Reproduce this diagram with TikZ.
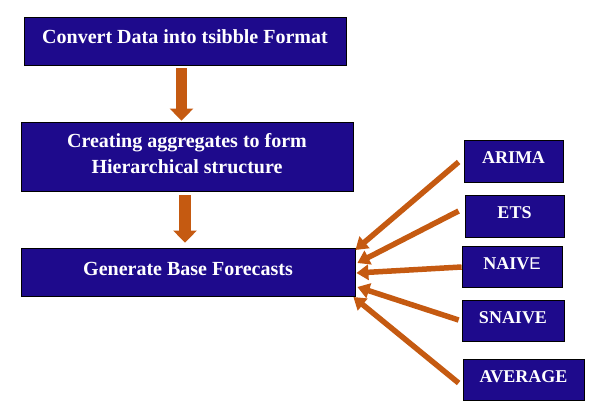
\documentclass[tikz,border=0pt]{standalone}
\usepackage{fontspec}
\setmainfont{Liberation Serif}
\newfontfamily\arialfont{Liberation Sans}
\usetikzlibrary{arrows.meta,calc}
\definecolor{boxblue}{RGB}{30,10,140}
\definecolor{arroworange}{RGB}{197,90,17}
\tikzset{
  bigbox/.style={draw=black, line width=0.8pt, fill=boxblue, text=white, inner sep=0pt,
    font=\fontsize{20}{25.5}\selectfont\bfseries, align=center, text height=13pt, text depth=7pt},
  smallbox/.style={draw=black, line width=0.8pt, fill=boxblue, text=white, inner sep=0pt,
    font=\fontsize{18}{22}\selectfont\bfseries, text height=12pt, text depth=7pt},
  bigarrow/.style={draw=arroworange, line width=11.5pt, -{Triangle[width=23pt,length=12pt]}},
  thinarrow/.style={draw=arroworange, line width=5.5pt, -{Triangle[width=15pt,length=12pt]}},
}
\begin{document}
\begin{tikzpicture}[x=1pt,y=-1pt]
\useasboundingbox[fill=white] (0,0) rectangle (596,412);
\node[bigbox, minimum width=322pt, minimum height=48pt] (b1) at (185,41) {Convert Data into tsibble Format};
\node[bigbox, minimum width=332pt, minimum height=69pt, text height=39pt, text depth=6pt] (b2) at (187,156.5) {Creating aggregates to form\\Hierarchical structure};
\node[bigbox, minimum width=334pt, minimum height=48pt] (b3) at (188,272) {Generate Base Forecasts};
\node[smallbox, minimum width=99pt, minimum height=42pt] (arima) at (513.5,161) {ARIMA};
\node[smallbox, minimum width=99pt, minimum height=42pt] (ets) at (514.5,216) {ETS};
\node[smallbox, minimum width=100pt, minimum height=41pt] (naive) at (512,266.5) {NAIV{\arialfont\mdseries\fontsize{17}{20}\selectfont E}};
\node[smallbox, minimum width=102pt, minimum height=41pt] (snaive) at (513,320.5) {SNAIVE};
\node[smallbox, minimum width=121pt, minimum height=41pt] (average) at (523.5,379.5) {AVERAGE};
% vertical arrows
\draw[bigarrow, shorten <=3pt, shorten >=1pt] ($(b1.south)+(-3.5,0)$) coordinate (a1s) -- ($(b2.north)+(-5.5,0)$) coordinate (a1e);
\draw[bigarrow, shorten <=4pt, shorten >=5pt] ($(b2.south)+(-2,0)$) coordinate (a2s) -- ($(b3.north)+(-3,0)$) coordinate (a2e);
% side arrows
\coordinate (t1) at ($(b3.east)+(0,-22)$);
\coordinate (t2) at ($(b3.east)+(2,-9)$);
\coordinate (t3) at ($(b3.east)+(1,1)$);
\coordinate (t4) at ($(b3.east)+(2,15)$);
\coordinate (t5) at ($(b3.east)+(-2,25)$);
\draw[thinarrow] ($(arima.west)+(-5,1)$) -- (t1);
\draw[thinarrow] ($(ets.west)+(-6,-5)$) -- (t2);
\draw[thinarrow] ($(naive.west)+(0,0.5)$) -- (t3);
\draw[thinarrow] ($(snaive.west)+(-3,-0.5)$) -- (t4);
\draw[thinarrow] ($(average.west)+(-4,3.5)$) -- (t5);
\end{tikzpicture}
\end{document}
